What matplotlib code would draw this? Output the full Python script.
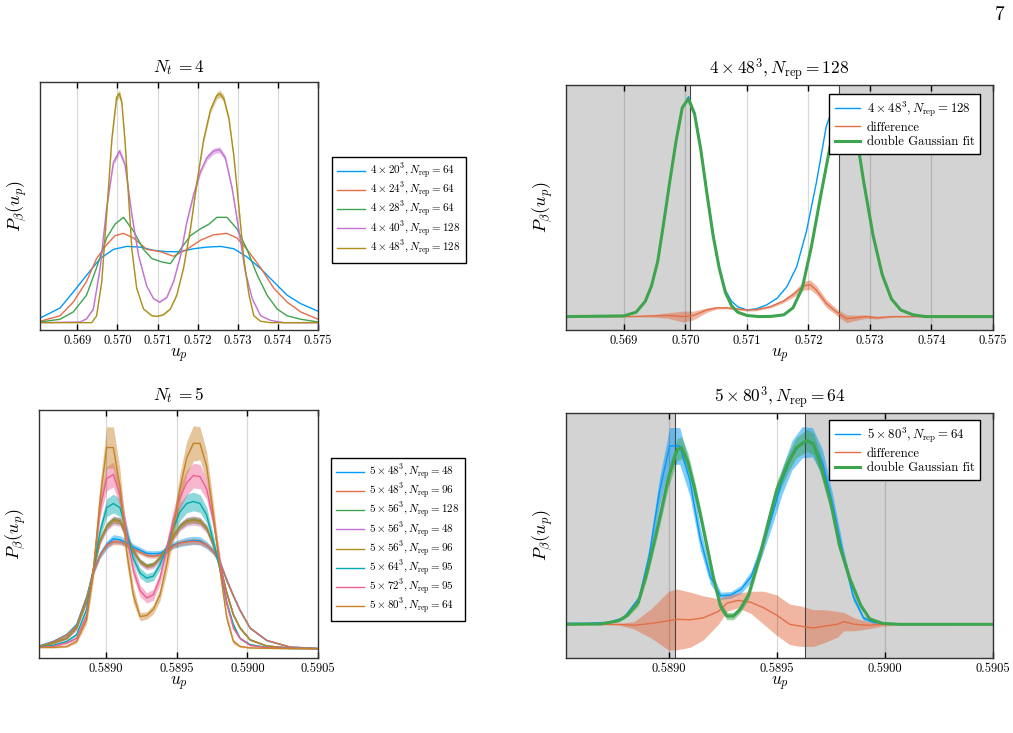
"""Plaquette histograms P_beta(u_p) at the transition, Nt=4 and Nt=5, with double Gaussian fits."""
import matplotlib
matplotlib.use("Agg")
import matplotlib.pyplot as plt  # noqa: E402
from matplotlib.ticker import FormatStrFormatter  # noqa: E402

# Plots.jl default palette
PALETTE = ["#009AFA", "#E36F47", "#3EA44E", "#C371D2", "#AC8E18", "#00AAAE", "#ED5E93", "#C68225"]
plt.rcParams.update({"font.family": "serif", "font.serif": ["cmr10"], "mathtext.fontset": "cm",
                     "axes.formatter.use_mathtext": True, "axes.unicode_minus": False})

W, H = 1013, 733

# ---------------- Nt = 4 (top left) ----------------
U4_20 = [0.56807, 0.56857, 0.5689, 0.56923, 0.56957, 0.5699, 0.57023, 0.57057, 0.5709, 0.57123, 0.57157,
         0.5719, 0.57223, 0.57257, 0.5729, 0.57323, 0.57357, 0.5739, 0.57423, 0.57457, 0.575]
P4_20 = [0.02, 0.064, 0.134, 0.207, 0.28, 0.32, 0.333, 0.33, 0.316, 0.31, 0.31,
         0.323, 0.33, 0.333, 0.323, 0.287, 0.236, 0.178, 0.12, 0.083, 0.05]

U4_24 = [0.56807, 0.56857, 0.5689, 0.56923, 0.56948, 0.56973, 0.56994, 0.57015, 0.5704, 0.57073, 0.57107, 0.5714,
         0.57173, 0.57207, 0.5724, 0.57273, 0.57298, 0.57323, 0.57357, 0.5739, 0.57423, 0.57457, 0.575]
P4_24 = [0.006, 0.03, 0.09, 0.18, 0.28, 0.34, 0.38, 0.39, 0.37, 0.32, 0.31, 0.29,
         0.32, 0.36, 0.384, 0.39, 0.37, 0.32, 0.24, 0.15, 0.09, 0.047, 0.015]

U4_28 = [0.56807, 0.56857, 0.5689, 0.56923, 0.56948, 0.56973, 0.56994, 0.57015, 0.5704, 0.57065, 0.57086, 0.57111,
         0.57132, 0.57157, 0.57182, 0.57207, 0.57228, 0.57248, 0.57273, 0.57298, 0.57323, 0.57348, 0.57373,
         0.57398, 0.57423, 0.57457, 0.575]
P4_28 = [0.003, 0.015, 0.047, 0.12, 0.24, 0.37, 0.43, 0.46, 0.40, 0.32, 0.28, 0.265,
         0.258, 0.32, 0.38, 0.41, 0.43, 0.46, 0.46, 0.41, 0.32, 0.21, 0.12,
         0.06, 0.03, 0.015, 0.003]

U4_40 = [0.56807, 0.56907, 0.56923, 0.5694, 0.56957, 0.56973, 0.5699, 0.57005, 0.57019, 0.57036, 0.57053, 0.57073,
         0.5709, 0.57105, 0.57123, 0.5714, 0.57157, 0.57173, 0.5719, 0.57207, 0.57223, 0.5724, 0.57255, 0.57269,
         0.57286, 0.57303, 0.57319, 0.57336, 0.57357, 0.57382, 0.57415, 0.575]
P4_40 = [0.0, 0.003, 0.017, 0.06, 0.24, 0.50, 0.70, 0.75, 0.69, 0.47, 0.29, 0.16,
         0.105, 0.09, 0.11, 0.18, 0.29, 0.44, 0.56, 0.66, 0.72, 0.75, 0.755, 0.72,
         0.585, 0.40, 0.22, 0.105, 0.03, 0.01, 0.0, 0.0]
E4_40 = [0.0, 0.0, 0.002, 0.004, 0.008, 0.01, 0.012, 0.013, 0.012, 0.01, 0.006, 0.004,
         0.003, 0.003, 0.003, 0.004, 0.006, 0.008, 0.01, 0.012, 0.013, 0.013, 0.013, 0.012,
         0.01, 0.008, 0.006, 0.004, 0.002, 0.0, 0.0, 0.0]

U4_48 = [0.56807, 0.56936, 0.56948, 0.56961, 0.56973, 0.56986, 0.56998, 0.57005, 0.57011, 0.57019, 0.57028, 0.57036,
         0.57048, 0.57065, 0.57086, 0.5710, 0.57115, 0.57132, 0.57148, 0.57165, 0.57182, 0.57198, 0.57215, 0.57232,
         0.57247, 0.57255, 0.57265, 0.57278, 0.5729, 0.57303, 0.57315, 0.57328, 0.5734, 0.57357, 0.57382, 0.575]
P4_48 = [0.0, 0.0, 0.03, 0.18, 0.47, 0.80, 0.985, 1.0, 0.96, 0.79, 0.54, 0.32,
         0.15, 0.06, 0.03, 0.028, 0.035, 0.06, 0.12, 0.24, 0.41, 0.61, 0.80, 0.93,
         0.99, 1.0, 0.98, 0.89, 0.73, 0.50, 0.28, 0.12, 0.03, 0.006, 0.0, 0.0]
E4_48 = [0.0, 0.0, 0.002, 0.005, 0.008, 0.012, 0.015, 0.016, 0.015, 0.012, 0.008, 0.005,
         0.003, 0.002, 0.002, 0.002, 0.002, 0.002, 0.003, 0.005, 0.008, 0.01, 0.012, 0.014,
         0.015, 0.016, 0.015, 0.013, 0.01, 0.008, 0.005, 0.003, 0.002, 0.0, 0.0, 0.0]

NT4_LABELS = [r"$4\times 20^3, N_{\rm rep}= 64$", r"$4\times 24^3, N_{\rm rep}= 64$",
              r"$4\times 28^3, N_{\rm rep}= 64$", r"$4\times 40^3, N_{\rm rep}= 128$",
              r"$4\times 48^3, N_{\rm rep}= 128$"]

# ---------------- 4x48^3 fit (top right) ----------------
U_TR = [0.56806, 0.5690, 0.5692, 0.56935, 0.56945, 0.56955, 0.56965, 0.56975, 0.56985, 0.56995, 0.57005, 0.57015,
        0.57025, 0.57035, 0.57045, 0.57055, 0.57065, 0.57075, 0.57085, 0.5710, 0.57116, 0.57132, 0.57149, 0.57165,
        0.57181, 0.57197, 0.57213, 0.57229, 0.57245, 0.5726, 0.5727, 0.5728, 0.5729, 0.57305, 0.5732, 0.57335,
        0.5735, 0.5737, 0.5739, 0.575]
P_TR = [0.0, 0.003, 0.02, 0.07, 0.14, 0.25, 0.43, 0.62, 0.80, 0.95, 1.0, 0.93,
        0.77, 0.57, 0.38, 0.23, 0.12, 0.07, 0.045, 0.03, 0.036, 0.053, 0.083, 0.136,
        0.227, 0.39, 0.61, 0.865, 0.99, 1.0, 0.93, 0.79, 0.61, 0.37, 0.19, 0.08,
        0.03, 0.008, 0.0, 0.0]
U_TR_FIT = [0.56806, 0.5690, 0.5692, 0.56935, 0.56945, 0.56955, 0.56965, 0.56975, 0.56985, 0.56995, 0.57005,
            0.57015, 0.57025, 0.57035, 0.57045, 0.57055, 0.57065, 0.57075, 0.57085, 0.571, 0.5712, 0.5714, 0.5716,
            0.57175, 0.5719, 0.57205, 0.5722, 0.57235, 0.5725, 0.5726, 0.5727, 0.5728, 0.5729, 0.57305, 0.5732,
            0.57335, 0.5735, 0.5737, 0.5739, 0.575]
P_TR_FIT = [0.0, 0.003, 0.02, 0.07, 0.14, 0.25, 0.43, 0.62, 0.80, 0.95, 0.99,
            0.92, 0.76, 0.56, 0.37, 0.22, 0.11, 0.05, 0.02, 0.005, 0.0, 0.001, 0.008,
            0.04, 0.13, 0.32, 0.55, 0.77, 0.95, 1.0, 0.93, 0.79, 0.61, 0.37, 0.19,
            0.08, 0.03, 0.008, 0.0, 0.0]
U_TR_DIFF = [0.56806, 0.5691, 0.56943, 0.5697, 0.56997, 0.57013, 0.57035, 0.57051, 0.57067, 0.57083, 0.571,
             0.57116, 0.57138, 0.57159, 0.57175, 0.57192, 0.57203, 0.57213, 0.57229, 0.57246, 0.57262,
             0.57278, 0.57294, 0.57311, 0.57338, 0.5738, 0.575]
P_TR_DIFF = [0.0, 0.0, 0.003, 0.005, 0.0, 0.005, 0.03, 0.04, 0.04, 0.035, 0.03,
             0.032, 0.045, 0.07, 0.1, 0.14, 0.145, 0.12, 0.06, 0.02, -0.01,
             -0.005, 0.0, -0.005, 0.0, 0.0, 0.0]
E_TR_DIFF = [0.0, 0.001, 0.005, 0.012, 0.025, 0.02, 0.01, 0.006, 0.005, 0.005, 0.005,
             0.005, 0.006, 0.008, 0.012, 0.02, 0.022, 0.02, 0.018, 0.015, 0.018,
             0.012, 0.008, 0.006, 0.003, 0.001, 0.0]
TR_WINDOW = (0.57007, 0.5725)

# ---------------- Nt = 5 (bottom left) ----------------
U5 = [0.588526, 0.588627, 0.588722, 0.588792, 0.588863, 0.58891, 0.588958, 0.589005, 0.589052, 0.589099,
      0.589146, 0.589193, 0.589241, 0.589288, 0.589335, 0.589382, 0.589429, 0.589476, 0.589524, 0.589571,
      0.589618, 0.589665, 0.589712, 0.589759, 0.589807, 0.589854, 0.589901, 0.589948, 0.590019, 0.590137,
      0.590302, 0.5905]
P5_48a = [0.013, 0.035, 0.068, 0.116, 0.25, 0.37, 0.453, 0.50, 0.53, 0.525, 0.51, 0.49, 0.475, 0.46, 0.458, 0.46,
          0.477, 0.50, 0.51, 0.518, 0.522, 0.52, 0.50, 0.47, 0.415, 0.33, 0.255, 0.185, 0.1, 0.04, 0.008, 0.001]
E5_48a = [0.003, 0.005, 0.006, 0.008, 0.012, 0.015, 0.018, 0.02, 0.02, 0.02, 0.018, 0.016, 0.015, 0.014, 0.014, 0.014,
          0.015, 0.016, 0.018, 0.02, 0.02, 0.02, 0.018, 0.016, 0.014, 0.012, 0.01, 0.008, 0.006, 0.004, 0.002, 0.001]
P5_48b = [0.011, 0.033, 0.065, 0.11, 0.245, 0.365, 0.45, 0.50, 0.515, 0.515, 0.50, 0.48, 0.465, 0.45, 0.445, 0.452,
          0.47, 0.495, 0.51, 0.515, 0.518, 0.515, 0.50, 0.468, 0.415, 0.33, 0.255, 0.185, 0.1, 0.04, 0.008, 0.001]
E5_48b = [0.002, 0.004, 0.005, 0.006, 0.008, 0.01, 0.012, 0.013, 0.014, 0.014, 0.013, 0.012, 0.011, 0.01, 0.01, 0.01,
          0.011, 0.012, 0.013, 0.014, 0.014, 0.014, 0.013, 0.012, 0.01, 0.009, 0.008, 0.006, 0.005, 0.003, 0.002, 0.001]
P5_56a = [0.009, 0.028, 0.052, 0.102, 0.232, 0.38, 0.522, 0.592, 0.622, 0.616, 0.542, 0.472, 0.422, 0.4, 0.408, 0.44,
          0.488, 0.542, 0.592, 0.616, 0.622, 0.616, 0.582, 0.502, 0.40, 0.27, 0.165, 0.1, 0.043, 0.013, 0.003, 0.0]
E5_56a = [0.002, 0.003, 0.004, 0.006, 0.008, 0.01, 0.012, 0.014, 0.015, 0.015, 0.013, 0.012, 0.011, 0.01, 0.01, 0.01,
          0.011, 0.012, 0.014, 0.015, 0.015, 0.015, 0.013, 0.011, 0.009, 0.008, 0.006, 0.005, 0.003, 0.002, 0.001, 0.0]
P5_56b = [0.009, 0.026, 0.049, 0.098, 0.228, 0.378, 0.518, 0.588, 0.618, 0.612, 0.538, 0.468, 0.418, 0.395, 0.402,
          0.434, 0.482, 0.538, 0.588, 0.612, 0.618, 0.612, 0.578, 0.498, 0.398, 0.268, 0.163, 0.1, 0.043, 0.013, 0.003,
          0.0]
E5_56b = [0.003, 0.005, 0.006, 0.009, 0.012, 0.015, 0.018, 0.021, 0.022, 0.022, 0.02, 0.018, 0.016, 0.015, 0.015, 0.015,
          0.016, 0.018, 0.021, 0.022, 0.022, 0.022, 0.02, 0.017, 0.014, 0.012, 0.009, 0.007, 0.005, 0.003, 0.001, 0.0]
P5_56c = [0.009, 0.027, 0.05, 0.1, 0.23, 0.38, 0.52, 0.59, 0.62, 0.614, 0.54, 0.47, 0.42, 0.397, 0.405, 0.437,
          0.485, 0.54, 0.59, 0.614, 0.62, 0.614, 0.58, 0.50, 0.40, 0.27, 0.164, 0.1, 0.043, 0.013, 0.003, 0.0]
E5_56c = [0.002, 0.003, 0.004, 0.006, 0.008, 0.01, 0.012, 0.014, 0.015, 0.015, 0.013, 0.012, 0.011, 0.01, 0.01, 0.01,
          0.011, 0.012, 0.014, 0.015, 0.015, 0.015, 0.013, 0.011, 0.009, 0.008, 0.006, 0.005, 0.003, 0.002, 0.001, 0.0]
P5_64 = [0.008, 0.016, 0.035, 0.068, 0.19, 0.38, 0.565, 0.68, 0.70, 0.68, 0.565, 0.437, 0.365, 0.34, 0.35, 0.405,
         0.485, 0.58, 0.66, 0.70, 0.71, 0.70, 0.645, 0.52, 0.38, 0.22, 0.116, 0.05, 0.02, 0.006, 0.001, 0.0]
E5_64 = [0.002, 0.003, 0.005, 0.008, 0.015, 0.025, 0.035, 0.043, 0.045, 0.043, 0.035, 0.028, 0.024, 0.022, 0.022, 0.024,
         0.028, 0.035, 0.042, 0.045, 0.045, 0.043, 0.038, 0.03, 0.022, 0.015, 0.01, 0.006, 0.003, 0.002, 0.001, 0.0]
P5_72 = [0.006, 0.011, 0.027, 0.05, 0.16, 0.38, 0.68, 0.82, 0.84, 0.74, 0.55, 0.38, 0.28, 0.245, 0.26, 0.34,
         0.48, 0.62, 0.73, 0.80, 0.835, 0.83, 0.77, 0.62, 0.42, 0.22, 0.10, 0.05, 0.016, 0.005, 0.002, 0.0]
E5_72 = [0.002, 0.003, 0.005, 0.008, 0.015, 0.03, 0.045, 0.058, 0.06, 0.055, 0.045, 0.035, 0.028, 0.025, 0.026, 0.03,
         0.038, 0.048, 0.056, 0.06, 0.06, 0.058, 0.05, 0.04, 0.028, 0.018, 0.01, 0.006, 0.003, 0.002, 0.001, 0.0]
P5_80 = [0.006, 0.006, 0.011, 0.035, 0.14, 0.37, 0.72, 0.97, 0.97, 0.78, 0.47, 0.26, 0.155, 0.16, 0.19, 0.26,
         0.405, 0.58, 0.775, 0.92, 0.99, 0.99, 0.88, 0.65, 0.38, 0.15, 0.035, 0.011, 0.004, 0.002, 0.0, 0.0]
E5_80 = [0.002, 0.003, 0.005, 0.008, 0.02, 0.045, 0.075, 0.1, 0.1, 0.085, 0.06, 0.04, 0.02, 0.018, 0.022, 0.03,
         0.042, 0.055, 0.07, 0.08, 0.085, 0.08, 0.07, 0.055, 0.04, 0.022, 0.012, 0.005, 0.003, 0.002, 0.001, 0.0]

NT5_SERIES = [P5_48a, P5_48b, P5_56a, P5_56b, P5_56c, P5_64, P5_72, P5_80]
NT5_ERRORS = [E5_48a, E5_48b, E5_56a, E5_56b, E5_56c, E5_64, E5_72, E5_80]
NT5_LABELS = [r"$5\times 48^3, N_{\rm rep}= 48$", r"$5\times 48^3, N_{\rm rep}= 96$",
              r"$5\times 56^3, N_{\rm rep}= 128$", r"$5\times 56^3, N_{\rm rep}= 48$",
              r"$5\times 56^3, N_{\rm rep}= 96$", r"$5\times 64^3, N_{\rm rep}= 95$",
              r"$5\times 72^3, N_{\rm rep}= 95$", r"$5\times 80^3, N_{\rm rep}= 64$"]

# ---------------- 5x80^3 fit (bottom right) ----------------
U_BR_FIT = [0.58853, 0.58869, 0.58877, 0.58881, 0.58886, 0.5889, 0.58895, 0.589, 0.58904, 0.58906, 0.58909, 0.58912,
            0.58915, 0.58918, 0.58921, 0.58924, 0.58927, 0.5893, 0.58933, 0.58937, 0.5894, 0.58943, 0.58946, 0.5895,
            0.58955, 0.58959, 0.58964, 0.58967, 0.5897, 0.58975, 0.58979, 0.58984, 0.58989, 0.58993, 0.58999,
            0.59007, 0.5905]
P_BR_FIT = [0.0, 0.002, 0.02, 0.05, 0.12, 0.28, 0.53, 0.80, 0.95, 0.96, 0.88, 0.74,
            0.58, 0.41, 0.24, 0.10, 0.045, 0.045, 0.08, 0.16, 0.28, 0.41, 0.55, 0.73,
            0.87, 0.96, 1.0, 0.98, 0.88, 0.66, 0.43, 0.24, 0.10, 0.03, 0.005, 0.0, 0.0]
E_BR_FIT = [0.0, 0.001, 0.005, 0.01, 0.02, 0.03, 0.04, 0.05, 0.06, 0.06, 0.05, 0.045,
            0.04, 0.035, 0.03, 0.025, 0.02, 0.02, 0.02, 0.025, 0.03, 0.035, 0.04, 0.045,
            0.05, 0.055, 0.06, 0.06, 0.055, 0.045, 0.035, 0.025, 0.015, 0.008, 0.003, 0.0, 0.0]
U_BR_DIFF = [0.58853, 0.58869, 0.58877, 0.58884, 0.58892, 0.589, 0.58904, 0.5891, 0.58916, 0.58923, 0.58927,
             0.58932, 0.58938, 0.58944, 0.5895, 0.58956, 0.58961, 0.58967, 0.58972, 0.58978, 0.58981, 0.58986,
             0.58992, 0.58999, 0.59007, 0.5905]
P_BR_DIFF = [0.0, 0.0, 0.0, -0.005, 0.005, 0.02, 0.027, 0.025, 0.035, 0.07, 0.115,
             0.13, 0.12, 0.09, 0.05, 0.0, -0.01, -0.02, -0.01, 0.0, 0.015, 0.0,
             -0.005, 0.0, 0.0, 0.0]
E_BR_DIFF = [0.0, 0.002, 0.005, 0.02, 0.08, 0.16, 0.165, 0.15, 0.12, 0.07, 0.045,
             0.04, 0.06, 0.09, 0.11, 0.11, 0.11, 0.1, 0.09, 0.07, 0.05, 0.035,
             0.02, 0.01, 0.003, 0.0]
BR_WINDOW = (0.58903, 0.58963)


def px_axes(fig, x0, y0, x1, y1):
    """Axes from pixel box (left, top, right, bottom)."""
    return fig.add_axes([x0 / W, 1 - y1 / H, (x1 - x0) / W, (y1 - y0) / H])


def style_axes(ax, xlim, ylim, ticks, fmt, title):
    ax.set_xlim(*xlim)
    ax.set_ylim(*ylim)
    ax.set_xticks(ticks)
    ax.xaxis.set_major_formatter(FormatStrFormatter(fmt))
    ax.tick_params(axis="x", direction="in", top=True, length=4, width=1, labelsize=9)
    ax.tick_params(axis="y", left=False, labelleft=False)
    ax.set_axisbelow("line")
    ax.grid(axis="x", color="black", alpha=0.15, lw=0.9)
    for s in ax.spines.values():
        s.set_color("#333333")
        s.set_linewidth(1.0)
    ax.set_title(title, fontsize=12.5, pad=7)
    ax.set_xlabel(r"$u_p$", fontsize=12.5, labelpad=0)
    ax.set_ylabel(r"$P_\beta(u_p)$", fontsize=13, labelpad=8)


def px_legend(ax, fig, x0, y0, fontsize, spacing, hlen):
    leg = ax.legend(loc="upper left", bbox_to_anchor=(x0 / W, 1 - y0 / H), bbox_transform=fig.transFigure,
                    borderaxespad=0, fontsize=fontsize, fancybox=False, framealpha=1, edgecolor="black",
                    labelspacing=spacing, handlelength=hlen, handletextpad=0.5, borderpad=0.45)
    leg.get_frame().set_linewidth(1.0)
    return leg


def band(ax, u, p, e, color, alpha=0.45):
    lo = [a - b for a, b in zip(p, e)]
    hi = [a + b for a, b in zip(p, e)]
    ax.fill_between(u, lo, hi, color=color, alpha=alpha, lw=0)


fig = plt.figure(figsize=(W / 100, H / 100), dpi=100)

# top left
ax = px_axes(fig, 40, 82, 318, 330)
curves4 = [(U4_20, P4_20, None), (U4_24, P4_24, None), (U4_28, P4_28, None), (U4_40, P4_40, E4_40),
           (U4_48, P4_48, E4_48)]
for i, (u, p, e) in enumerate(curves4):
    if e is not None:
        band(ax, u, p, e, PALETTE[i])
    ax.plot(u, p, color=PALETTE[i], lw=1.0, label=NT4_LABELS[i])
style_axes(ax, (0.56807, 0.575), (-0.032, 1.051), [0.569, 0.570, 0.571, 0.572, 0.573, 0.574, 0.575], "%.3f",
           r"$N_t\, = 4$")
px_legend(ax, fig, 332, 157, 8, 0.0, 2.5)

# top right
ax = px_axes(fig, 566, 85, 993, 330)
ax.axvspan(0.56806, TR_WINDOW[0], color="#d3d3d3", lw=0, zorder=0.8)
ax.axvspan(TR_WINDOW[1], 0.575, color="#d3d3d3", lw=0, zorder=0.8)
for xv in TR_WINDOW:
    ax.axvline(xv, color="#444444", lw=0.8, zorder=1.6)
ax.plot(U_TR, P_TR, color=PALETTE[0], lw=1.0, label=NT4_LABELS[4])
band(ax, U_TR_DIFF, P_TR_DIFF, E_TR_DIFF, PALETTE[1], alpha=0.5)
ax.plot(U_TR_DIFF, P_TR_DIFF, color=PALETTE[1], lw=1.0, label="difference")
ax.plot(U_TR_FIT, P_TR_FIT, color=PALETTE[2], lw=2.2, label="double Gaussian fit")
style_axes(ax, (0.56806, 0.575), (-0.061, 1.053), [0.569, 0.570, 0.571, 0.572, 0.573, 0.574, 0.575], "%.3f",
           NT4_LABELS[4])
px_legend(ax, fig, 829, 94, 9.2, 0.2, 2.0)

# bottom left
ax = px_axes(fig, 39, 410, 318, 658)
for i, (p, e) in enumerate(zip(NT5_SERIES, NT5_ERRORS)):
    band(ax, U5, p, e, PALETTE[i])
    ax.plot(U5, p, color=PALETTE[i], lw=1.0, label=NT5_LABELS[i])
style_axes(ax, (0.588526, 0.5905), (-0.045, 1.151), [0.5890, 0.5895, 0.5900, 0.5905], "%.4f",
           r"$N_t\, = 5$")
px_legend(ax, fig, 331, 458, 8, 0.0, 2.5)

# bottom right
ax = px_axes(fig, 566, 413, 993, 658)
ax.axvspan(0.588526, BR_WINDOW[0], color="#d3d3d3", lw=0, zorder=0.8)
ax.axvspan(BR_WINDOW[1], 0.5905, color="#d3d3d3", lw=0, zorder=0.8)
for xv in BR_WINDOW:
    ax.axvline(xv, color="#444444", lw=0.8, zorder=1.6)
band(ax, U5, P5_80, E5_80, PALETTE[0], alpha=0.5)
ax.plot(U5, P5_80, color=PALETTE[0], lw=1.0, label=NT5_LABELS[7])
band(ax, U_BR_DIFF, P_BR_DIFF, E_BR_DIFF, PALETTE[1], alpha=0.5)
ax.plot(U_BR_DIFF, P_BR_DIFF, color=PALETTE[1], lw=1.0, label="difference")
band(ax, U_BR_FIT, P_BR_FIT, E_BR_FIT, PALETTE[2], alpha=0.5)
ax.plot(U_BR_FIT, P_BR_FIT, color=PALETTE[2], lw=2.2, label="double Gaussian fit")
style_axes(ax, (0.588526, 0.5905), (-0.183, 1.149), [0.5890, 0.5895, 0.5900, 0.5905], "%.4f",
           NT5_LABELS[7])
px_legend(ax, fig, 829, 420, 9.2, 0.2, 2.0)

fig.text(1000 / W, 1 - 15 / H, "7", fontsize=14, ha="center", va="center")

fig.savefig("out.png", dpi=100)
plt.close(fig)
